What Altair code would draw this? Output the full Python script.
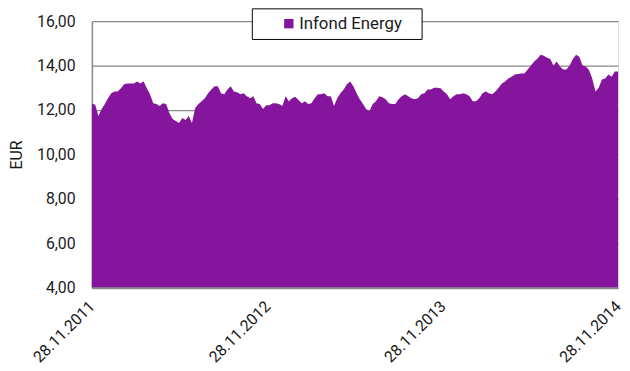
import altair as alt
import pandas as pd

values = [
    12.27, 12.25, 11.73, 12.04, 12.27, 12.53, 12.76, 12.84, 12.84, 12.98, 13.16, 13.2, 13.2, 13.2,
    13.29, 13.2, 13.3, 12.98, 12.71, 12.31, 12.27, 12.18, 12.31, 12.27, 11.87, 11.6, 11.51,
    11.42, 11.64, 11.55, 11.73, 11.42, 12.09, 12.27, 12.4, 12.53, 12.76, 12.93, 13.07, 13.07, 12.76,
    12.71, 12.93, 13.07, 12.84, 12.8, 12.71, 12.76, 12.62, 12.53, 12.62, 12.31, 12.27, 12.05,
    12.22, 12.22, 12.31, 12.31, 12.27, 12.18, 12.62, 12.4, 12.53, 12.6, 12.45, 12.31, 12.4, 12.27,
    12.31, 12.53, 12.71, 12.71, 12.76, 12.62, 12.62, 12.18, 12.53, 12.76, 12.93, 13.16, 13.29,
    13.07, 12.76, 12.49, 12.27, 12.04, 11.96, 12.27, 12.4, 12.62, 12.58, 12.49, 12.31, 12.27, 12.27,
    12.49, 12.62, 12.71, 12.62, 12.53, 12.49, 12.53, 12.71, 12.76, 12.93, 12.93, 13.0, 13.0,
    12.98, 12.84, 12.71, 12.49, 12.62, 12.71, 12.71, 12.76, 12.71, 12.62, 12.4, 12.4, 12.53, 12.76,
    12.84, 12.76, 12.71, 12.84, 13.0, 13.2, 13.29, 13.42, 13.5, 13.6, 13.62, 13.65, 13.65,
    13.82, 14.0, 14.18, 14.31, 14.49, 14.44, 14.35, 14.3, 14.0, 14.18, 13.96, 13.82, 13.82, 14.0,
    14.3, 14.49, 14.4, 14.0, 13.96, 13.8, 13.42, 12.84, 13.0, 13.38, 13.42, 13.6, 13.5, 13.73, 13.73,
]
dates = pd.date_range("2011-11-28", "2014-11-28", periods=len(values)).strftime("%Y-%m-%dT%H:%M:%SZ")
series_name = "Infond Energy"
y_ticks = [4, 6, 8, 10, 12, 14, 16]
x_ticks = [(2011, 11, 28), (2012, 11, 28), (2013, 11, 28), (2014, 11, 28)]

df = pd.DataFrame({"date": list(dates), "value": values, "series": series_name})

FONT = "Roboto"
purple = "#85159D"
BLANK = "\u2800"

chart = alt.Chart(df).mark_area(color=purple, opacity=1).encode(
    x=alt.X(
        "date:T",
        scale=alt.Scale(type="utc",
                        domain=[alt.DateTime(year=2011, month=11, date=28, utc=True),
                                alt.DateTime(year=2014, month=11, date=28, utc=True)]),
        axis=alt.Axis(
            values=[alt.DateTime(year=y, month=m, date=d, utc=True) for (y, m, d) in x_ticks],
            format="%d.%m.%Y", labelAngle=-45, labelAlign="right", labelBaseline="middle",
            labelPadding=16, ticks=False, grid=False, domainColor="#8a8a8a", domainWidth=2,
            labelFont=FONT, labelFontSize=16, labelColor="#1a1a1a", zindex=1, title=None,
            labelOverlap=False, labelBound=False, labelFlush=False,
        ),
    ),
    y=alt.Y(
        "value:Q",
        scale=alt.Scale(domain=[4, 16], nice=False, zero=False),
        axis=alt.Axis(
            values=y_ticks, labelExpr="replace(format(datum.value, '.2f'), '.', ',')",
            ticks=False, labelPadding=17, gridColor="#8a8a8a", gridWidth=1.3,
            domainColor="#8a8a8a", domainWidth=1.5, labelFont=FONT, labelFontSize=16,
            labelColor="#1a1a1a", title="EUR", titleFont=FONT, titleFontSize=16,
            titleFontWeight="normal", titleColor="#1a1a1a", titlePadding=12,
        ),
    ),
    y2=alt.datum(4),
    fill=alt.Fill(
        "series:N",
        scale=alt.Scale(domain=[series_name], range=[purple]),
        legend=alt.Legend(
            orient="none", legendX=162, legendY=-13, title=None, symbolType="square",
            symbolSize=90, symbolOffset=22, labelFont=FONT, labelFontSize=17,
            labelColor="#1a1a1a", strokeColor="#000000", fillColor="white", padding=7,
            cornerRadius=0, labelOffset=2,
            labelExpr=f"datum.label + '{BLANK}'",
        ),
    ),
).properties(
    width=533, height=270,
    autosize=alt.AutoSizeParams(type="none"),
    padding={"left": 85, "top": 11, "right": 4, "bottom": 82},
).configure_view(stroke=None).configure(background="white")

chart.save("out.html", embed_options={"renderer": "svg", "actions": False})
